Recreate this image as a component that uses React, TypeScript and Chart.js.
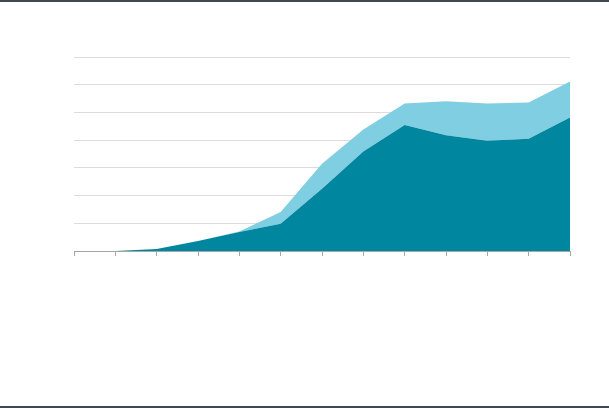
import React, { useEffect, useRef } from "react";
import { Chart, registerables } from "chart.js";

Chart.register(...registerables);

const categories = ["1", "2", "3", "4", "5", "6", "7", "8", "9", "10", "11", "12", "13"];
const darkSeries = [0, 0, 0.07, 0.36, 0.69, 0.98, 2.25, 3.59, 4.55, 4.18, 3.98, 4.05, 4.82];
const lightSeries = [0, 0, 0, 0, 0.01, 0.43, 0.9, 0.79, 0.77, 1.22, 1.34, 1.31, 1.3];
const yMax = 7;

export default function App() {
  const ref = useRef<HTMLCanvasElement | null>(null);

  useEffect(() => {
    if (!ref.current) return;
    const chart = new Chart(ref.current, {
      type: "line",
      data: {
        labels: categories,
        datasets: [
          {
            data: darkSeries,
            backgroundColor: "rgb(0,134,158)",
            borderWidth: 0,
            pointRadius: 0,
            fill: "origin",
            tension: 0,
          },
          {
            data: lightSeries,
            backgroundColor: "rgb(128,206,225)",
            borderWidth: 0,
            pointRadius: 0,
            fill: "-1",
            tension: 0,
          },
        ],
      },
      options: {
        responsive: false,
        animation: false,
        layout: { padding: { left: 74, right: 39, top: 57, bottom: 152 } },
        plugins: { legend: { display: false }, tooltip: { enabled: false } },
        scales: {
          x: {
            offset: false,
            ticks: { display: false },
            grid: {
              drawOnChartArea: false,
              drawTicks: true,
              tickLength: 5,
              color: "#a6a6a6",
            },
            border: { display: true, color: "#a6a6a6", width: 1 },
          },
          y: {
            stacked: true,
            min: 0,
            max: yMax,
            ticks: { display: false, stepSize: 1 },
            grid: { drawTicks: false, color: "#dcdcdc" },
            border: { display: false },
          },
        },
      },
    });
    return () => chart.destroy();
  }, []);

  return (
    <div
      style={{
        position: "absolute",
        left: 0,
        top: 0,
        width: 609,
        height: 408,
        background: "#ffffff",
      }}
    >
      <canvas ref={ref} width={609} height={408} style={{ position: "absolute", left: 0, top: 0 }} />
      <div style={{ position: "absolute", left: 0, top: 0, width: 609, height: 2, background: "#3f4a50" }} />
      <div style={{ position: "absolute", left: 0, top: 406, width: 609, height: 2, background: "#3f4a50" }} />
    </div>
  );
}
